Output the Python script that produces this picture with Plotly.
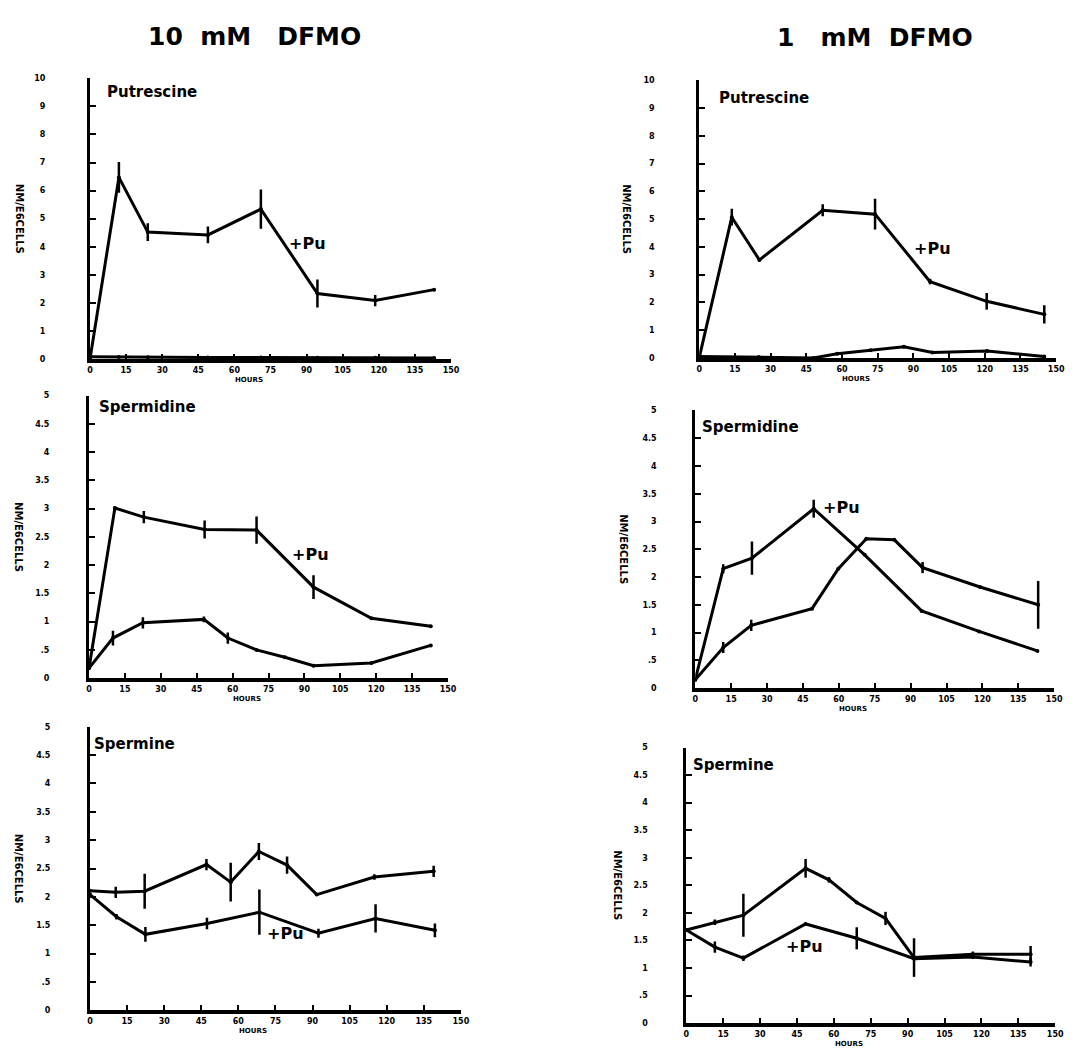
import plotly.graph_objects as go

# ---------------- data ----------------
hour_ticks = [0, 15, 30, 45, 60, 75, 90, 105, 120, 135, 150]
hour_ticktext = ["0", "15", "30", "45", "60", "75", "90", "105", "120", "135", "150"]
put_ticks = [0, 1, 2, 3, 4, 5, 6, 7, 8, 9, 10]
put_ticktext = ["0", "1", "2", "3", "4", "5", "6", "7", "8", "9", "10"]
sp_ticks = [0, 0.5, 1, 1.5, 2, 2.5, 3, 3.5, 4, 4.5, 5]
sp_ticktext = ["0", ".5", "1", "1.5", "2", "2.5", "3", "3.5", "4", "4.5", "5"]

column_titles = ["10  mM   DFMO", "1   mM  DFMO"]
panel_names = ["Putrescine", "Putrescine", "Spermidine", "Spermidine", "Spermine", "Spermine"]

# Putrescine, 10 mM DFMO
put10_pu_h = [0, 12, 24, 49, 71, 94.5, 118.5, 143]
put10_pu = [0, 6.47, 4.52, 4.42, 5.34, 2.33, 2.08, 2.47]
put10_pu_err = [0, 0.55, 0.32, 0.3, 0.7, 0.5, 0.2, 0]
put10_ctrl_h = [0, 12, 24, 49, 71, 94.5, 118.5, 143]
put10_ctrl = [0.08, 0.07, 0.06, 0.05, 0.05, 0.04, 0.04, 0.03]
put10_ctrl_err = [0, 0, 0, 0, 0, 0, 0, 0]

# Putrescine, 1 mM DFMO
put1_pu_h = [0, 13.7, 25.3, 51.9, 73.9, 97, 120.8, 145]
put1_pu = [0, 5.07, 3.53, 5.32, 5.18, 2.75, 2.04, 1.57]
put1_pu_err = [0, 0.3, 0, 0.22, 0.55, 0.1, 0.3, 0.33]
put1_ctrl_h = [0, 25, 48, 58, 72, 86, 98, 121, 145]
put1_ctrl = [0.05, 0.03, 0.0, 0.15, 0.28, 0.4, 0.2, 0.25, 0.05]
put1_ctrl_err = [0, 0, 0, 0, 0, 0, 0, 0, 0]

# Spermidine, 10 mM DFMO
spd10_pu_h = [0, 10.8, 22.9, 48.3, 70, 93.8, 118, 142.8]
spd10_pu = [0.18, 3.01, 2.85, 2.63, 2.62, 1.61, 1.06, 0.92]
spd10_pu_err = [0, 0, 0.11, 0.16, 0.24, 0.21, 0, 0]
spd10_ctrl_h = [0, 10, 22.5, 48, 58, 70, 81.8, 93.8, 118, 142.8]
spd10_ctrl = [0.18, 0.71, 0.98, 1.04, 0.71, 0.5, 0.37, 0.22, 0.27, 0.58]
spd10_ctrl_err = [0, 0.13, 0.1, 0.05, 0.1, 0, 0, 0, 0, 0]

# Spermidine, 1 mM DFMO
spd1_pu_h = [0, 11.7, 23.7, 49.5, 70.8, 94.6, 118.6, 143]
spd1_pu = [0.15, 2.15, 2.34, 3.23, 2.4, 1.39, 1.02, 0.67]
spd1_pu_err = [0, 0.08, 0.3, 0.16, 0, 0, 0, 0]
spd1_ctrl_h = [0, 11.7, 23.4, 48.8, 59.8, 71.5, 83.2, 95, 119, 143.3]
spd1_ctrl = [0.15, 0.73, 1.13, 1.43, 2.15, 2.69, 2.67, 2.17, 1.82, 1.5]
spd1_ctrl_err = [0, 0.1, 0.1, 0, 0, 0, 0, 0.1, 0, 0.43]

# Spermine, 10 mM DFMO
spm10_pu_h = [0, 10.7, 22.4, 47.3, 68.5, 92.4, 115.5, 139.5]
spm10_pu = [2.04, 1.65, 1.34, 1.53, 1.73, 1.36, 1.62, 1.41]
spm10_pu_err = [0, 0.05, 0.13, 0.1, 0.4, 0.08, 0.25, 0.12]
spm10_ctrl_h = [0, 10.4, 22.1, 47.1, 56.9, 68.3, 79.7, 91.7, 115, 139]
spm10_ctrl = [2.11, 2.08, 2.1, 2.57, 2.26, 2.8, 2.56, 2.04, 2.35, 2.45]
spm10_ctrl_err = [0, 0.1, 0.31, 0.1, 0.34, 0.15, 0.15, 0, 0.05, 0.1]

# Spermine, 1 mM DFMO
spm1_pu_h = [0, 11.6, 23.2, 48.5, 69.3, 92.6, 116.5, 140]
spm1_pu = [1.69, 1.38, 1.18, 1.8, 1.54, 1.17, 1.2, 1.11]
spm1_pu_err = [0, 0.1, 0.05, 0, 0.2, 0, 0, 0.08]
spm1_ctrl_h = [0, 11.6, 23.2, 48.5, 58, 69.3, 81, 92.6, 116.5, 140]
spm1_ctrl = [1.69, 1.83, 1.96, 2.81, 2.6, 2.19, 1.9, 1.19, 1.25, 1.25]
spm1_ctrl_err = [0, 0.05, 0.39, 0.17, 0.05, 0, 0.12, 0.35, 0.05, 0.15]

# "+Pu" label anchor (hours, value) for each panel
pu_label_h = [82, 89.6, 83.9, 52.5, 70.8, 39.8]
pu_label_v = [4.1, 3.93, 2.19, 3.25, 1.35, 1.40]
# panel name anchor (hours, value)
name_h = [6.2, 7.5, 3.3, 2.0, 0.8, 2.0]
name_v = [9.5, 9.36, 4.79, 4.71, 4.7, 4.69]

series = [
    (put10_pu_h, put10_pu, put10_pu_err, put10_ctrl_h, put10_ctrl, put10_ctrl_err),
    (put1_pu_h, put1_pu, put1_pu_err, put1_ctrl_h, put1_ctrl, put1_ctrl_err),
    (spd10_pu_h, spd10_pu, spd10_pu_err, spd10_ctrl_h, spd10_ctrl, spd10_ctrl_err),
    (spd1_pu_h, spd1_pu, spd1_pu_err, spd1_ctrl_h, spd1_ctrl, spd1_ctrl_err),
    (spm10_pu_h, spm10_pu, spm10_pu_err, spm10_ctrl_h, spm10_ctrl, spm10_ctrl_err),
    (spm1_pu_h, spm1_pu, spm1_pu_err, spm1_ctrl_h, spm1_ctrl, spm1_ctrl_err),
]

# ---------------- layout (pixel geometry) ----------------
W, H = 1081, 1049
# (x_left, x_right, y_top, y_bottom) in pixels of each plotting box
boxes = [
    (88, 453, 75, 358),
    (704, 1065, 77, 357),
    (87, 450, 395, 680),
    (700, 1063, 410, 690),
    (88, 463, 729, 1015),
    (691, 1064, 750, 1028),
]
ystand = [40, 40, 35, 34, 35, 34]
ytitle_x = [17, 631, 15, 628, 16, 622]

FONT = "DejaVu Sans"
fig = go.Figure()
annotations = []

for i, (box, ser) in enumerate(zip(boxes, series)):
    n = i + 1
    xa = "x" if n == 1 else f"x{n}"
    ya = "y" if n == 1 else f"y{n}"
    xl, xr, yt, yb = box
    is_put = i < 2
    ymax = 10 if is_put else 5
    ph, pv, pe, ch, cv, ce = ser
    for hx, vy, er in ((ch, cv, ce), (ph, pv, pe)):
        fig.add_trace(go.Scatter(
            x=hx, y=vy, xaxis=xa, yaxis=ya, mode="lines+markers",
            line=dict(color="black", width=3),
            marker=dict(color="black", size=4),
            error_y=dict(type="data", array=er, visible=True, width=0,
                         thickness=2.5, color="black"),
            showlegend=False, hoverinfo="skip",
        ))
    fig.layout[("xaxis" if n == 1 else f"xaxis{n}")] = dict(
        domain=[xl / W, xr / W], range=[0, 150], anchor=ya,
        tickmode="array", tickvals=hour_ticks, ticktext=hour_ticktext,
        ticks="inside", ticklen=5, tickwidth=2, tickcolor="black",
        showline=True, linewidth=4, linecolor="black",
        showgrid=False, zeroline=False, fixedrange=True,
        tickfont=dict(family=FONT, size=8, color="black", weight="bold"),
    )
    fig.layout[("yaxis" if n == 1 else f"yaxis{n}")] = dict(
        domain=[1 - yb / H, 1 - yt / H], range=[0, ymax], anchor=xa,
        tickmode="array",
        tickvals=put_ticks if is_put else sp_ticks,
        ticktext=put_ticktext if is_put else sp_ticktext,
        ticks="inside", ticklen=6, tickwidth=2, tickcolor="black",
        showline=True, linewidth=3, linecolor="black",
        showgrid=False, zeroline=False, fixedrange=True,
        ticklabelstandoff=ystand[i],
        tickfont=dict(family=FONT, size=8, color="black", weight="bold"),
    )
    # panel name
    annotations.append(dict(
        x=name_h[i], y=name_v[i], xref=xa, yref=ya, text=panel_names[i],
        showarrow=False, xanchor="left", yanchor="middle",
        font=dict(family=FONT, size=15, color="black", weight="bold"),
    ))
    # +Pu label
    annotations.append(dict(
        x=pu_label_h[i], y=pu_label_v[i], xref=xa, yref=ya, text="+Pu",
        showarrow=False, xanchor="left", yanchor="middle",
        font=dict(family=FONT, size=16, color="black", weight="bold"),
    ))
    # HOURS label
    annotations.append(dict(
        x=66, y=0, xref=xa, yref=ya, text="HOURS", showarrow=False,
        xanchor="center", yanchor="top", yshift=-15,
        font=dict(family=FONT, size=7, color="black", weight="bold"),
    ))
    # y-axis title
    annotations.append(dict(
        x=ytitle_x[i] / W, y=1 - (yt + yb) / 2 / H, xref="paper", yref="paper",
        text="NM/E6CELLS", textangle=90, showarrow=False,
        xanchor="center", yanchor="middle",
        font=dict(family=FONT, size=10, color="black", weight="bold"),
    ))

# column titles
annotations.append(dict(
    x=254 / W, y=1 - 33 / H, xref="paper", yref="paper", text=column_titles[0],
    showarrow=False, xanchor="center", yanchor="middle",
    font=dict(family=FONT, size=25, color="black", weight="bold"),
))
annotations.append(dict(
    x=882 / W, y=1 - 34 / H, xref="paper", yref="paper", text=column_titles[1],
    showarrow=False, xanchor="center", yanchor="middle",
    font=dict(family=FONT, size=25, color="black", weight="bold"),
))

fig.update_layout(
    width=W, height=H, autosize=False,
    margin=dict(l=0, r=0, t=0, b=0),
    paper_bgcolor="white", plot_bgcolor="white",
    showlegend=False, annotations=annotations,
)

fig.write_html("out.html", config={"displayModeBar": False})
